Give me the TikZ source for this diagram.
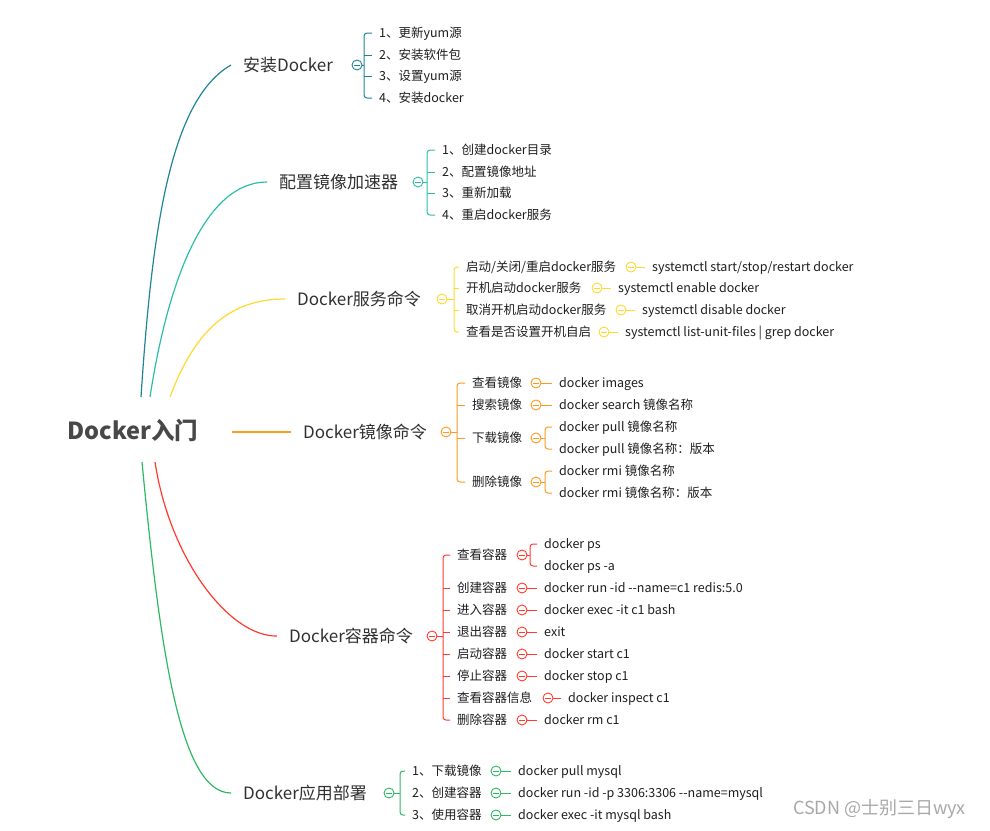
\documentclass[tikz,border=0pt]{standalone}
\usepackage{fontspec}
\setmainfont{Noto Sans CJK SC}
\usetikzlibrary{calc}
\definecolor{cA}{HTML}{1E8496}
\definecolor{cB}{HTML}{2BBFAA}
\definecolor{cC}{HTML}{FFD92E}
\definecolor{cD}{HTML}{FF9A1F}
\definecolor{cE}{HTML}{FF3B30}
\definecolor{cF}{HTML}{2DB862}
\definecolor{txt}{HTML}{1E1E1E}
\definecolor{btxt}{HTML}{303030}
\definecolor{rtxt}{HTML}{484848}
\definecolor{wm}{HTML}{A8A8A8}
\tikzset{
 rootnode/.style={inner sep=0, font=\fontsize{23.5}{26}\selectfont\bfseries, text=rtxt},
 leaf/.style={anchor=west, inner sep=0, font=\fontsize{12.5}{14}\selectfont, text=txt, text height=10.8pt, text depth=1.5pt},
 branch/.style={anchor=west, inner sep=0, font=\fontsize{17}{20}\selectfont, text=btxt, text height=14.8pt, text depth=2pt},
 fold/.style={circle, draw=#1, fill=white, minimum size=10pt, inner sep=0, line width=0.9pt,
   path picture={\draw[#1, line width=0.8pt] ([xshift=-2.6pt]path picture bounding box.center) -- ([xshift=2.6pt]path picture bounding box.center);}},
 link/.style={draw=#1, line width=1pt},
 curve/.style={draw=#1, line width=1.2pt},
 watermark/.style={anchor=west, inner sep=0, font=\fontsize{18}{20}\selectfont, text=wm},
}
% brace from first to last child, gap = spine distance before text
\newcommand\mmbrace[4]{\draw[link=#1,rounded corners=3pt] ([xshift=-7pt]#2.west) -| ([xshift=-#4pt]#3.west) -- ([xshift=-7pt]#3.west);}
\newcommand\mmtick[3]{\draw[link=#1] ([xshift=-#3pt]#2.west) -- ([xshift=-7pt]#2.west);}
\newcommand\mmstem[3]{\draw[link=#1] (#2.east) -- (#2.east -| #3);}
\newcommand\mmleaf[3]{\draw[link=#1] (#2.east) -- ([xshift=-7pt]#3.west);}
\begin{document}
\begin{tikzpicture}[x=1pt,y=-1pt]
\useasboundingbox (0,0) rectangle (990,830);
% root
\node[rootnode] (root) at (133,430) {Docker入门};
\coordinate (r1) at (141,397);
\coordinate (r2) at (150,397);
\coordinate (r3) at (170,397);
\coordinate (r4) at (232,432);
\coordinate (r5) at (155,462);
\coordinate (r6) at (142,462);

% ---------- branch 1
\node[branch] (b1) at (243,65) {安装Docker};
\draw[curve=cA] (r1) .. controls (152,230) and (170,100) .. ([xshift=-12pt]b1.west);
\node[leaf] (c11) at (379,33) {1、更新yum源};
\node[leaf] (c12) at (379,55) {2、安装软件包};
\node[leaf] (c13) at (379,76) {3、设置yum源};
\node[leaf] (c14) at (379,98) {4、安装docker};
\coordinate (s1) at ([xshift=-15pt]c11.west);
\mmbrace{cA}{c11}{c14}{15}
\mmtick{cA}{c12}{15}
\mmtick{cA}{c13}{15}
\node[fold=cA] (k1) at (357,65) {};
\mmstem{cA}{k1}{s1}

% ---------- branch 2
\node[branch] (b2) at (279,182) {配置镜像加速器};
\draw[curve=cB] (r2) .. controls (168,280) and (205,182) .. ([xshift=-12pt]b2.west);
\node[leaf] (c21) at (442,150) {1、创建docker目录};
\node[leaf] (c22) at (442,172) {2、配置镜像地址};
\node[leaf] (c23) at (442,193) {3、重新加载};
\node[leaf] (c24) at (442,215) {4、重启docker服务};
\coordinate (s2) at ([xshift=-15pt]c21.west);
\mmbrace{cB}{c21}{c24}{15}
\mmtick{cB}{c22}{15}
\mmtick{cB}{c23}{15}
\node[fold=cB] (k2) at (418,182) {};
\mmstem{cB}{k2}{s2}

% ---------- branch 3
\node[branch] (b3) at (297,299) {Docker服务命令};
\draw[curve=cC] (r3) .. controls (195,330) and (230,299) .. ([xshift=-12pt]b3.west);
\node[leaf] (c31) at (466,267) {启动/关闭/重启docker服务};
\node[leaf] (c32) at (466,288) {开机启动docker服务};
\node[leaf] (c33) at (466,310) {取消开机启动docker服务};
\node[leaf] (c34) at (466,332) {查看是否设置开机自启};
\coordinate (s3) at ([xshift=-12pt]c31.west);
\mmbrace{cC}{c31}{c34}{12}
\mmtick{cC}{c32}{12}
\mmtick{cC}{c33}{12}
\node[fold=cC] (k3) at (442,299) {};
\mmstem{cC}{k3}{s3}
\node[fold=cC] (k31) at (631,267) {};
\node[fold=cC] (k32) at (597,288) {};
\node[fold=cC] (k33) at (621,310) {};
\node[fold=cC] (k34) at (604,332) {};
\node[leaf] (l31) at (652,267) {systemctl start/stop/restart docker};
\node[leaf] (l32) at (618,288) {systemctl enable docker};
\node[leaf] (l33) at (642,310) {systemctl disable docker};
\node[leaf] (l34) at (625,332) {systemctl list-unit-files | grep docker};
\mmleaf{cC}{k31}{l31}
\mmleaf{cC}{k32}{l32}
\mmleaf{cC}{k33}{l33}
\mmleaf{cC}{k34}{l34}

% ---------- branch 4
\node[branch] (b4) at (303,432) {Docker镜像命令};
\draw[curve=cD] (r4) -- ([xshift=-12pt]b4.west);
\node[leaf] (c41) at (472,383) {查看镜像};
\node[leaf] (c42) at (472,405) {搜索镜像};
\node[leaf] (c43) at (472,438) {下载镜像};
\node[leaf] (c44) at (472,482) {删除镜像};
\coordinate (s4) at ([xshift=-15pt]c41.west);
\mmbrace{cD}{c41}{c44}{15}
\mmtick{cD}{c42}{15}
\mmtick{cD}{c43}{15}
\node[fold=cD] (k4) at (446,432) {};
\mmstem{cD}{k4}{s4}
\node[fold=cD] (k41) at (536,383) {};
\node[fold=cD] (k42) at (536,405) {};
\node[fold=cD] (k43) at (536,438) {};
\node[fold=cD] (k44) at (536,482) {};
\node[leaf] (l41) at (559,383) {docker images};
\node[leaf] (l42) at (559,405) {docker search 镜像名称};
\node[leaf] (l431) at (559,427) {docker pull 镜像名称};
\node[leaf] (l432) at (559,449) {docker pull 镜像名称：版本};
\node[leaf] (l441) at (559,471) {docker rmi 镜像名称};
\node[leaf] (l442) at (559,493) {docker rmi 镜像名称：版本};
\mmleaf{cD}{k41}{l41}
\mmleaf{cD}{k42}{l42}
\coordinate (s43) at ([xshift=-14pt]l431.west);
\mmbrace{cD}{l431}{l432}{14}
\mmstem{cD}{k43}{s43}
\coordinate (s44) at ([xshift=-14pt]l441.west);
\mmbrace{cD}{l441}{l442}{14}
\mmstem{cD}{k44}{s44}

% ---------- branch 5
\node[branch] (b5) at (289,636) {Docker容器命令};
\draw[curve=cE] (r5) .. controls (170,560) and (230,637) .. ([xshift=-12pt]b5.west);
\node[leaf] (c51) at (457,555) {查看容器};
\node[leaf] (c52) at (457,588) {创建容器};
\node[leaf] (c53) at (457,610) {进入容器};
\node[leaf] (c54) at (457,632) {退出容器};
\node[leaf] (c55) at (457,654) {启动容器};
\node[leaf] (c56) at (457,676) {停止容器};
\node[leaf] (c57) at (457,698) {查看容器信息};
\node[leaf] (c58) at (457,720) {删除容器};
\coordinate (s5) at ([xshift=-14pt]c51.west);
\mmbrace{cE}{c51}{c58}{14}
\mmtick{cE}{c52}{14}
\mmtick{cE}{c53}{14}
\mmtick{cE}{c54}{14}
\mmtick{cE}{c55}{14}
\mmtick{cE}{c56}{14}
\mmtick{cE}{c57}{14}
\node[fold=cE] (k5) at (432,636) {};
\mmstem{cE}{k5}{s5}
\node[fold=cE] (k51) at (522,555) {};
\node[fold=cE] (k52) at (522,588) {};
\node[fold=cE] (k53) at (522,610) {};
\node[fold=cE] (k54) at (522,632) {};
\node[fold=cE] (k55) at (522,654) {};
\node[fold=cE] (k56) at (522,676) {};
\node[fold=cE] (k57) at (548,698) {};
\node[fold=cE] (k58) at (522,720) {};
\node[leaf] (l511) at (544,544) {docker ps};
\node[leaf] (l512) at (544,566) {docker ps -a};
\node[leaf] (l52) at (544,588) {docker run -id -{}-name=c1 redis:5.0};
\node[leaf] (l53) at (544,610) {docker exec -it c1 bash};
\node[leaf] (l54) at (544,632) {exit};
\node[leaf] (l55) at (544,654) {docker start c1};
\node[leaf] (l56) at (544,676) {docker stop c1};
\node[leaf] (l57) at (568,698) {docker inspect c1};
\node[leaf] (l58) at (544,720) {docker rm c1};
\coordinate (s51) at ([xshift=-14pt]l511.west);
\mmbrace{cE}{l511}{l512}{14}
\mmstem{cE}{k51}{s51}
\mmleaf{cE}{k52}{l52}
\mmleaf{cE}{k53}{l53}
\mmleaf{cE}{k54}{l54}
\mmleaf{cE}{k55}{l55}
\mmleaf{cE}{k56}{l56}
\mmleaf{cE}{k57}{l57}
\mmleaf{cE}{k58}{l58}

% ---------- branch 6
\node[branch] (b6) at (243,793) {Docker应用部署};
\draw[curve=cF] (r6) .. controls (160,650) and (180,793) .. ([xshift=-12pt]b6.west);
\node[leaf] (c61) at (412,771) {1、下载镜像};
\node[leaf] (c62) at (412,793) {2、创建容器};
\node[leaf] (c63) at (412,815) {3、使用容器};
\coordinate (s6) at ([xshift=-12pt]c61.west);
\mmbrace{cF}{c61}{c63}{12}
\node[fold=cF] (k6) at (389,793) {};
\mmstem{cF}{k6}{s6}
\node[fold=cF] (k61) at (496,771) {};
\node[fold=cF] (k62) at (496,793) {};
\node[fold=cF] (k63) at (496,815) {};
\node[leaf] (l61) at (518,771) {docker pull mysql};
\node[leaf] (l62) at (518,793) {docker run -id -p 3306:3306 -{}-name=mysql};
\node[leaf] (l63) at (518,815) {docker exec -it mysql bash};
\mmleaf{cF}{k61}{l61}
\mmleaf{cF}{k62}{l62}
\mmleaf{cF}{k63}{l63}

% watermark
\node[watermark] (wm) at (793,809) {CSDN @士别三日wyx};
\end{tikzpicture}
\end{document}
